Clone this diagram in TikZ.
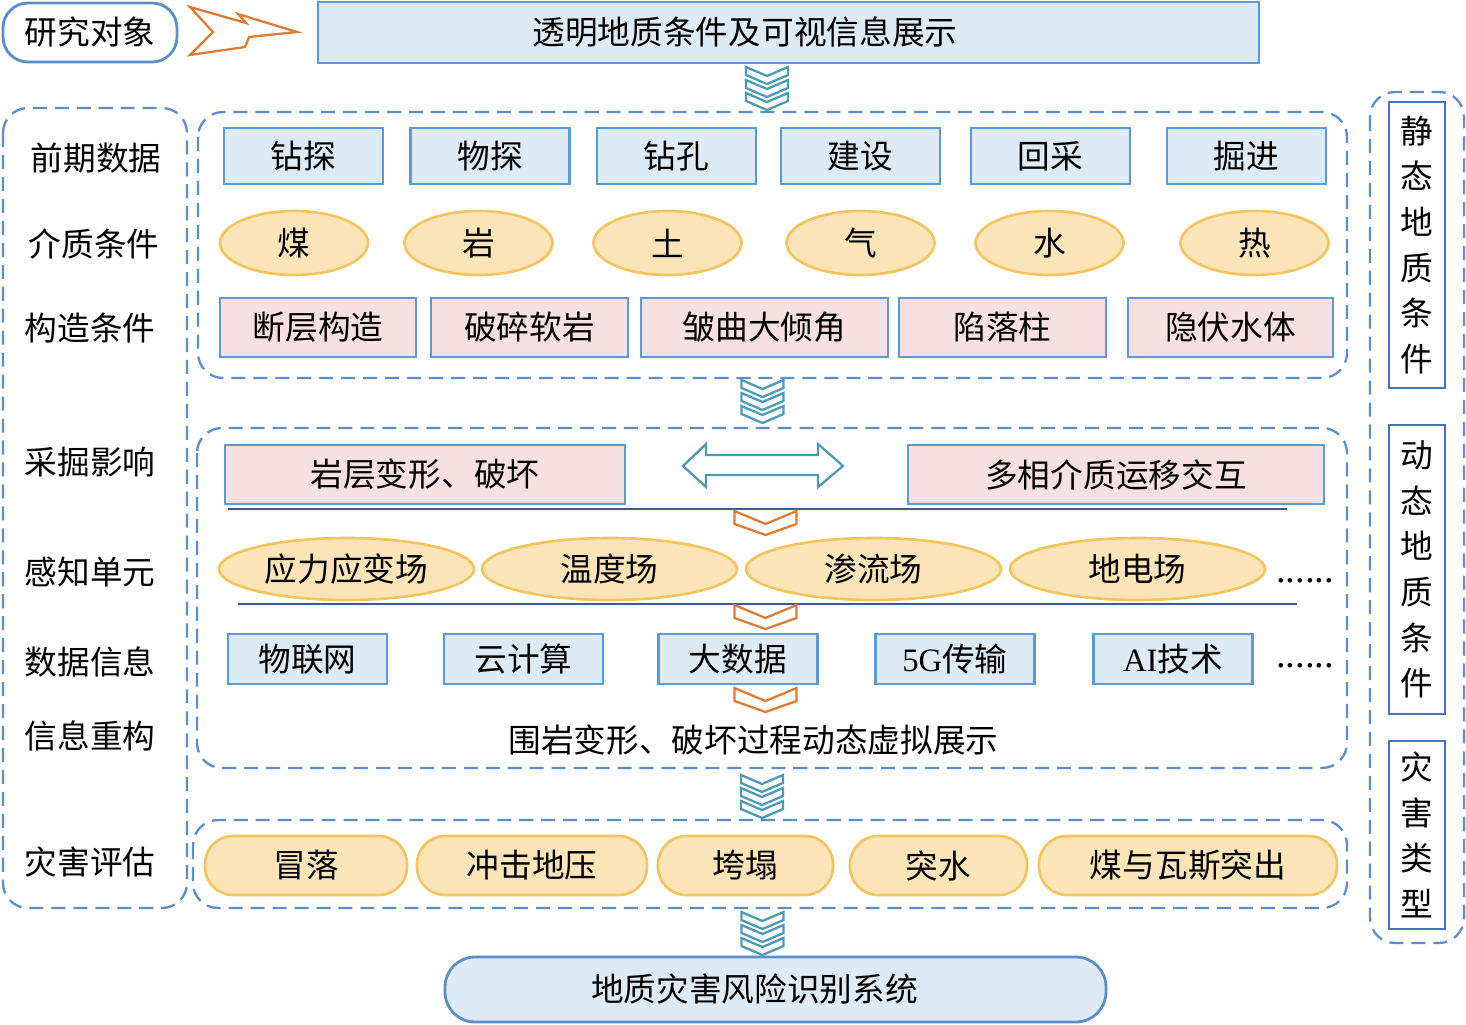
\documentclass[tikz,border=0pt]{standalone}
\usepackage{fontspec}
\setmainfont{Liberation Serif}
\newfontfamily\cjk{Noto Sans CJK SC}
\usetikzlibrary{shapes.geometric, positioning, arrows.meta}

\definecolor{boxblue}{HTML}{5B9BD5}
\definecolor{boxfill}{HTML}{DDEBF7}
\definecolor{pinkfill}{HTML}{F7E0E2}
\definecolor{goldline}{HTML}{F4C55E}
\definecolor{goldfill}{HTML}{FBE5B8}
\definecolor{panelblue}{HTML}{5B8FCB}
\definecolor{darkblue}{HTML}{4472C4}
\definecolor{navy}{HTML}{3A5A96}
\definecolor{tealline}{HTML}{4B9AB8}
\definecolor{orangeline}{HTML}{E07B35}

\tikzset{
    wd/.style={minimum width=#1*0.02cm},
    ht/.style={minimum height=#1*0.02cm},
    base/.style={
        font=\cjk\fontsize{18.6}{22}\selectfont, inner sep=0pt
    },
    bluebox/.style={
        base, rectangle, draw=boxblue, fill=boxfill, line width=1.5pt
    },
    pinkbox/.style={
        base, rectangle, draw=boxblue, fill=pinkfill, line width=1.5pt
    },
    medium/.style={
        base, ellipse, draw=goldline, fill=goldfill, line width=1.5pt
    },
    hazard/.style={
        base, rectangle, rounded corners=0.56cm, draw=goldline, fill=goldfill, line width=1.5pt
    },
    sidebox/.style={
        base, rectangle, draw=darkblue, fill=white, line width=1.5pt, wd=56, align=center,
        font=\cjk\fontsize{18.6}{26}\selectfont
    },
    panel/.style={
        draw=panelblue, line width=1.3pt, dash pattern=on 8pt off 4.5pt, rounded corners=0.5cm
    },
    divider/.style={
        draw=navy, line width=1.3pt
    },
    chevrons/.pic={
        % three stacked chevrons
        \draw[tealline, line width=1.3pt, fill=white] (-21,0) -- (0,9) -- (21,0) -- (21,8) -- (0,17) -- (-21,8) -- cycle;
        \draw[tealline, line width=1.3pt, fill=white] (-21,13) -- (0,22) -- (21,13) -- (21,21) -- (0,30) -- (-21,21) -- cycle;
        \draw[tealline, line width=1.3pt, fill=white] (-21,26) -- (0,35) -- (21,26) -- (21,34) -- (0,43) -- (-21,34) -- cycle;
    },
    onechev/.pic={
        \draw[orangeline, line width=1.3pt, fill=white] (-31,0) -- (0,13) -- (31,0) -- (31,13) -- (0,24) -- (-31,13) -- cycle;
    }
}

\begin{document}
\begin{tikzpicture}[x=0.02cm, y=-0.02cm]

    \useasboundingbox (0,0) rectangle (1466,1024);

    % Top row
    \node[base, rectangle, rounded corners=0.5cm, draw=panelblue, line width=1.6pt, fill=white, wd=174, ht=59] (object) at (90,32.5) {研究对象};
    \draw[orangeline, line width=1.3pt, fill=white] (190,7) -- (246,23) -- (238,14) -- (297,32) -- (249,37) -- (245,47) -- (190,55) -- (213,32) -- cycle;
    \node[bluebox, wd=941, ht=61] (show) at (788.5,32.5) {\kern-1.74cm 透明地质条件及可视信息展示};

    \pic at (767,67) {chevrons};

    % Left column
    \draw[panel] (3,108) rectangle (187,908);
    \node[base] (predata) at (96,158) {前期数据};
    \node[base] (medcond) at (94,244) {介质条件};
    \node[base] (struct) at (90,328) {构造条件};
    \node[base] (mining) at (90,462) {采掘影响};
    \node[base] (sensor) at (90,572) {感知单元};
    \node[base] (datainfo) at (90,662) {数据信息};
    \node[base] (rebuild) at (90,736) {信息重构};
    \node[base] (assess) at (90,862) {灾害评估};

    % Panel 1: static conditions
    \draw[panel] (198,112) rectangle (1347,378);
    \node[bluebox, wd=159, ht=56] (drill) at (303.5,156) {钻探};
    \node[bluebox, wd=159, ht=56] (geophys) at (490,156) {物探};
    \node[bluebox, wd=159, ht=56] (hole) at (676.5,156) {钻孔};
    \node[bluebox, wd=159, ht=56] (build) at (860.5,156) {建设};
    \node[bluebox, wd=159, ht=56] (stoping) at (1050.5,156) {回采};
    \node[bluebox, wd=159, ht=56] (heading) at (1246.5,156) {掘进};

    \node[medium, wd=148, ht=64] (coal) at (294,243) {煤};
    \node[medium, wd=148, ht=64] (rock) at (478.5,243) {岩};
    \node[medium, wd=148, ht=64] (soil) at (667.5,243) {土};
    \node[medium, wd=148, ht=64] (gas) at (860.5,243) {气};
    \node[medium, wd=148, ht=64] (water) at (1049.5,243) {水};
    \node[medium, wd=148, ht=64] (heat) at (1254.5,243) {热};

    \node[pinkbox, wd=196, ht=59] (fault) at (318,327.5) {断层构造};
    \node[pinkbox, wd=197, ht=59] (soft) at (529.5,327.5) {破碎软岩};
    \node[pinkbox, wd=247, ht=59] (fold) at (764.5,327.5) {皱曲大倾角};
    \node[pinkbox, wd=207, ht=59] (pillar) at (1002.5,327.5) {陷落柱};
    \node[pinkbox, wd=205, ht=59] (hidden) at (1230.5,327.5) {隐伏水体};

    \pic at (762.5,380) {chevrons};

    % Panel 2: dynamic conditions
    \draw[panel] (197,428) rectangle (1347,768);
    \node[pinkbox, wd=400, ht=59] (deform) at (425,474.5) {岩层变形、破坏};
    \node[pinkbox, wd=416, ht=59] (multi) at (1116,474.5) {多相介质运移交互};
    \draw[tealline, line width=1.3pt, fill=white] (683,466) -- (706,444) -- (706,455) -- (818,455) -- (818,444) -- (843,466) -- (818,487) -- (818,475) -- (706,475) -- (706,487) -- cycle;

    \draw[divider] (228,509) -- (1287,509);
    \pic at (765.5,511) {onechev};

    \node[medium, wd=255, ht=62] (stress) at (346.5,569) {应力应变场};
    \node[medium, wd=255, ht=62] (temp) at (609.5,569) {温度场};
    \node[medium, wd=255, ht=62] (seep) at (873.5,569) {渗流场};
    \node[medium, wd=255, ht=62] (elec) at (1137.5,569) {地电场};
    \node[base, font=\fontsize{22}{22}\selectfont] (more1) at (1305,581) {......};

    \draw[divider] (238,604) -- (1297,604);
    \pic at (765.5,605) {onechev};

    \node[bluebox, wd=159, ht=50] (iot) at (307.5,659) {物联网};
    \node[bluebox, wd=159, ht=50] (cloud) at (523.5,659) {云计算};
    \node[bluebox, wd=159, ht=50] (bigdata) at (738,659) {大数据};
    \node[bluebox, wd=159, ht=50] (fiveg) at (955,659) {{\rmfamily 5G}传输};
    \node[bluebox, wd=159, ht=50] (ai) at (1173,659) {{\rmfamily AI}技术};
    \node[base, font=\fontsize{22}{22}\selectfont] (more2) at (1305,666) {......};

    \pic at (765.5,688) {onechev};
    \node[base] (virtual) at (753.5,740) {围岩变形、破坏过程动态虚拟展示};

    \pic at (762,775) {chevrons};

    % Panel 3: hazards
    \draw[panel] (193,820) rectangle (1347,908);
    \node[hazard, wd=202, ht=59] (roof) at (306,865.5) {冒落};
    \node[hazard, wd=230, ht=59] (burst) at (532,865.5) {冲击地压};
    \node[hazard, wd=175, ht=59] (collapse) at (745.5,865.5) {垮塌};
    \node[hazard, wd=177, ht=59] (inrush) at (938.5,865.5) {突水};
    \node[hazard, wd=298, ht=59] (outburst) at (1188,865.5) {煤与瓦斯突出};

    \pic at (762.5,912) {chevrons};

    % Result
    \node[base, rectangle, rounded corners=0.6cm, draw=panelblue, fill=boxfill, line width=1.6pt, wd=661, ht=65] (system) at (775.5,989.5) {\kern-0.84cm 地质灾害风险识别系统};

    % Right column
    \draw[panel] (1370,92) rectangle (1464,943);
    \node[sidebox, ht=286] (static) at (1417,245) {静\\态\\地\\质\\条\\件};
    \node[sidebox, ht=289] (dynamic) at (1417,569.5) {动\\态\\地\\质\\条\\件};
    \node[sidebox, ht=188] (types) at (1417,835) {灾\\害\\类\\型};

\end{tikzpicture}
\end{document}
